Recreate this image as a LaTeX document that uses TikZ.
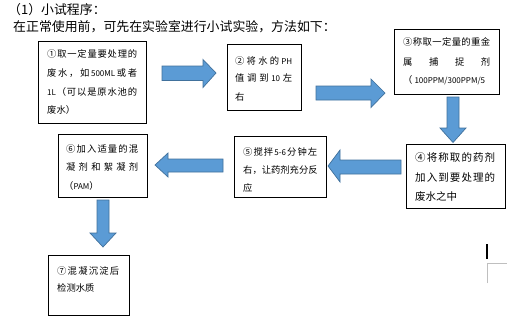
\documentclass[tikz,border=0pt]{standalone}
\usepackage{fontspec}
\setmainfont{Noto Sans CJK SC}
\newcommand\lt[1]{{\fontsize{8}{8}\selectfont #1}}
\ExplSyntaxOn
\NewDocumentCommand\jl{mm}{\makebox[#1][s]{\tl_map_inline:nn{#2}{##1\hfill}\unskip}}
\ExplSyntaxOff
\definecolor{arrfill}{RGB}{91,155,213}
\definecolor{arrline}{RGB}{65,113,156}
\tikzset{
  box/.style={draw=black, line width=0.9pt, anchor=north west, inner sep=0pt},
  txt/.style={anchor=base west, inner sep=0pt, font=\fontsize{9.3}{9.3}\selectfont},
  txtb/.style={anchor=base west, inner sep=0pt, font=\fontsize{10.5}{10.5}\selectfont},
  head/.style={anchor=base west, inner sep=0pt, font=\fontsize{12.9}{12.9}\selectfont},
  blockarrow/.style={fill=arrfill, draw=arrline, line width=0.7pt, line join=miter}
}
\begin{document}
\begin{tikzpicture}[x=1pt,y=-1pt]
\useasboundingbox[fill=white] (0,0) rectangle (513,325);

% heading
\node[head] (h1) at (8,14.9) {（1）小试程序：};
\node[head] (h2) at (13,31.9) {在正常使用前，可先在实验室进行小试实验，方法如下：};

% boxes
\node[box, minimum width=108pt, minimum height=82pt] (B1) at (38,41) {};
\node[box, minimum width=74pt, minimum height=66pt] (B2) at (227,44) {};
\node[box, minimum width=105pt, minimum height=65pt] (B3) at (394,29) {};
\node[box, minimum width=99pt, minimum height=64pt] (B4) at (406,144) {};
\node[box, minimum width=92pt, minimum height=61pt] (B5) at (234,136) {};
\node[box, minimum width=89pt, minimum height=63pt] (B6) at (58,134) {};
\node[box, minimum width=81pt, minimum height=60pt] (B7) at (48,255) {};

% box 1 text
\node[txt] (t1a) at (47,57.5) {\jl{90pt}{①取一定量要处理的}};
\node[txt] (t1b) at (47,76.5) {\jl{90pt}{废水，如{\lt{500ML}}或者}};
\node[txt] (t1c) at (47,95.5) {\jl{90pt}{{\lt{1L}}（可以是原水池的}};
\node[txt] (t1d) at (47,113.5) {废水）};

% box 2 text
\node[txt] (t2a) at (235,64.5) {\jl{57pt}{②将水的{\lt{PH}}}};
\node[txt] (t2b) at (235,81.5) {\jl{57pt}{值调到{\lt{10}}左}};
\node[txt] (t2c) at (235,100.5) {右};

% box 3 text
\node[txt] (t3a) at (403,45.5) {\jl{87pt}{③称取一定量的重金}};
\node[txt] (t3b) at (403,65.5) {\jl{87pt}{属捕捉剂}};
\node[txt] (t3c) at (403,83.5) {（\hspace{2pt}\lt{100PPM/300PPM/5}};

% box 4 text
\node[txtb] (t4a) at (415,161) {\jl{80pt}{④将称取的药剂}};
\node[txtb] (t4b) at (415,181) {\jl{80pt}{加入到要处理的}};
\node[txtb] (t4c) at (415,200) {废水之中};

% box 5 text
\node[txt] (t5a) at (243,155.5) {\jl{74pt}{⑤搅拌{\lt{5-6}}分钟左}};
\node[txt] (t5b) at (243,173.5) {\jl{74pt}{右，让药剂充分反}};
\node[txt] (t5c) at (243,191.5) {应};

% box 6 text
\node[txt] (t6a) at (66,152.5) {\jl{72pt}{⑥加入适量的混}};
\node[txt] (t6b) at (66,170.5) {\jl{72pt}{凝剂和絮凝剂}};
\node[txt] (t6c) at (64,189.5) {（\lt{PAM}）};

% box 7 text
\node[txt] (t7a) at (57,274.5) {\jl{62pt}{⑦混凝沉淀后}};
\node[txt] (t7b) at (57,291.5) {检测水质};

% block arrows
% 1 -> 2 (right)
\draw[blockarrow] (162,66) -- (203,66) -- (203,59.5) -- (216,73) -- (203,87.5) -- (203,80.5) -- (162,80.5) -- cycle;
% 2 -> 3 (right)
\draw[blockarrow] (316,86) -- (371,86) -- (371,79) -- (385,93) -- (371,107.5) -- (371,100) -- (316,100) -- cycle;
% 3 -> 4 (down)
\draw[blockarrow] (447,97) -- (459,97) -- (459,128) -- (466,128) -- (453,142.5) -- (440,128) -- (447,128) -- cycle;
% 4 -> 5 (left)
\draw[blockarrow] (401,160) -- (340,160) -- (340,150) -- (328,166) -- (340,182) -- (340,174) -- (401,174) -- cycle;
% 5 -> 6 (left)
\draw[blockarrow] (223,159) -- (168,159) -- (168,153) -- (155,165) -- (168,177) -- (168,172) -- (223,172) -- cycle;
% 6 -> 7 (down)
\draw[blockarrow] (97,200) -- (109,200) -- (109,233) -- (116,233) -- (103,247) -- (90,233) -- (97,233) -- cycle;

% text cursor and margin mark
\fill[black] (486,244) rectangle (488,259);
\draw[black!25, line width=0.8pt] (487,283) -- (487,263) -- (507,263);
\end{tikzpicture}
\end{document}
